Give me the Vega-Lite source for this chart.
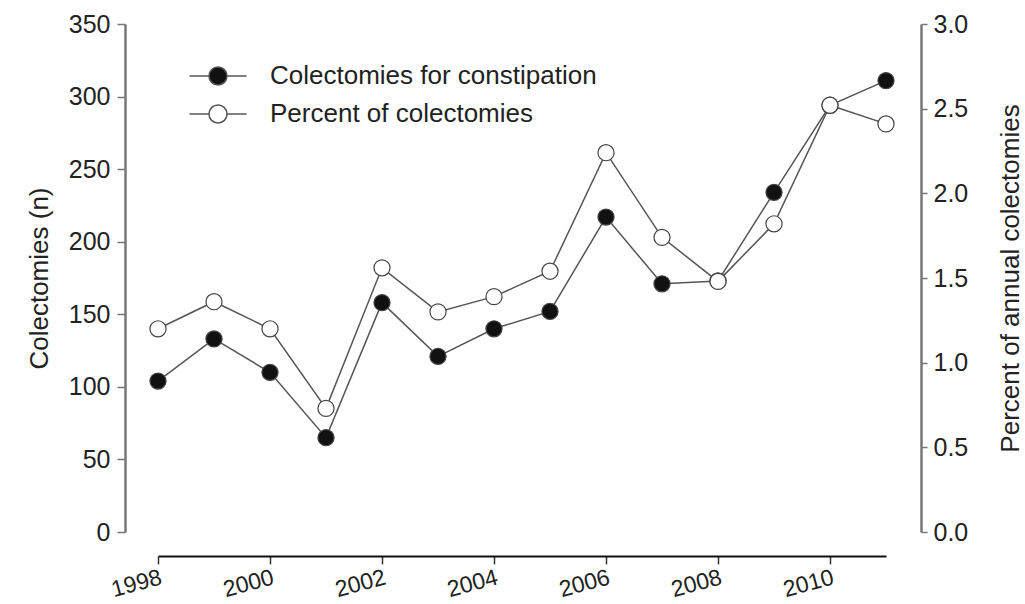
{
  "$schema": "https://vega.github.io/schema/vega-lite/v6.json",
  "width": 728,
  "height": 508,
  "autosize": "none",
  "padding": {"left": 158, "top": 24, "right": 139, "bottom": 72},
  "background": "white",
  "config": {
    "view": {"stroke": null},
    "font": "Liberation Sans",
    "axis": {
      "grid": false,
      "labelFont": "Liberation Sans",
      "titleFont": "Liberation Sans",
      "labelColor": "#222",
      "titleColor": "#222",
      "titleFontWeight": "normal",
      "labelFontSize": 25,
      "titleFontSize": 26
    }
  },
  "data": {
    "values": [
      {"year": 1998, "n": 104, "pct": 1.20},
      {"year": 1999, "n": 133, "pct": 1.36},
      {"year": 2000, "n": 110, "pct": 1.20},
      {"year": 2001, "n": 65, "pct": 0.73},
      {"year": 2002, "n": 158, "pct": 1.56},
      {"year": 2003, "n": 121, "pct": 1.30},
      {"year": 2004, "n": 140, "pct": 1.39},
      {"year": 2005, "n": 152, "pct": 1.54},
      {"year": 2006, "n": 217, "pct": 2.24},
      {"year": 2007, "n": 171, "pct": 1.74},
      {"year": 2008, "n": 173, "pct": 1.48},
      {"year": 2009, "n": 234, "pct": 1.82},
      {"year": 2010, "n": 294, "pct": 2.52},
      {"year": 2011, "n": 311, "pct": 2.41}
    ]
  },
  "encoding": {
    "x": {
      "field": "year",
      "type": "quantitative",
      "scale": {"domain": [1998, 2011], "nice": false, "zero": false},
      "axis": {
        "title": null,
        "values": [1998, 2000, 2002, 2004, 2006, 2008, 2010],
        "format": "d",
        "offset": 24,
        "domainColor": "#111",
        "domainWidth": 2,
        "tickColor": "#333",
        "tickWidth": 1.5,
        "tickSize": 8,
        "labelAngle": -15,
        "labelAlign": "right",
        "labelBaseline": "top",
        "labelPadding": 2,
        "labelFontSize": 23
      }
    }
  },
  "layer": [
    {
      "encoding": {
        "y": {
          "field": "n",
          "type": "quantitative",
          "scale": {"domain": [0, 350], "nice": false},
          "axis": {
            "orient": "left",
            "title": "Colectomies (n)",
            "values": [0, 50, 100, 150, 200, 250, 300, 350],
            "offset": 33,
            "domainColor": "#777",
            "domainWidth": 2.5,
            "tickColor": "#777",
            "tickWidth": 1.5,
            "tickSize": 8,
            "labelPadding": 7,
            "titlePadding": 16
          }
        }
      },
      "layer": [
        {"mark": {"type": "line", "color": "#555", "strokeWidth": 1.5}},
        {
          "mark": {"type": "point", "filled": true, "size": 260, "stroke": "#444", "strokeWidth": 1.2, "opacity": 1},
          "encoding": {
            "fill": {
              "datum": "Colectomies for constipation",
              "type": "nominal",
              "scale": {
                "domain": ["Colectomies for constipation", "Percent of colectomies"],
                "range": ["#111", "#ffffff"]
              },
              "legend": {
                "title": null,
                "orient": "none",
                "legendX": 47,
                "legendY": 39,
                "padding": 0,
                "rowPadding": 12,
                "symbolType": "M-3,0L-0.95,0M0.95,0L3,0M-0.95,0A0.95,0.95,0,1,0,0.95,0A0.95,0.95,0,1,0,-0.95,0Z",
                "symbolSize": 361,
                "symbolStrokeColor": "#555",
                "symbolStrokeWidth": 1.5,
                "labelOffset": 39,
                "labelFont": "Liberation Sans",
                "labelFontSize": 26,
                "labelColor": "#222",
                "labelLimit": 500
              }
            }
          }
        }
      ]
    },
    {
      "encoding": {
        "y": {
          "field": "pct",
          "type": "quantitative",
          "scale": {"domain": [0, 3], "nice": false},
          "axis": {
            "orient": "right",
            "title": "Percent of annual colectomies",
            "titleAngle": -90,
            "titleBaseline": "top",
            "values": [0, 0.5, 1, 1.5, 2, 2.5, 3],
            "format": ".1f",
            "offset": 35,
            "domainColor": "#777",
            "domainWidth": 2.5,
            "tickColor": "#777",
            "tickWidth": 1.5,
            "tickSize": 6,
            "labelPadding": 6,
            "titlePadding": 30
          }
        }
      },
      "layer": [
        {"mark": {"type": "line", "color": "#555", "strokeWidth": 1.5}},
        {
          "mark": {"type": "point", "filled": true, "size": 260, "stroke": "#444", "strokeWidth": 1.2, "opacity": 1},
          "encoding": {
            "fill": {"datum": "Percent of colectomies", "type": "nominal"}
          }
        }
      ]
    }
  ],
  "resolve": {"scale": {"y": "independent"}}
}
